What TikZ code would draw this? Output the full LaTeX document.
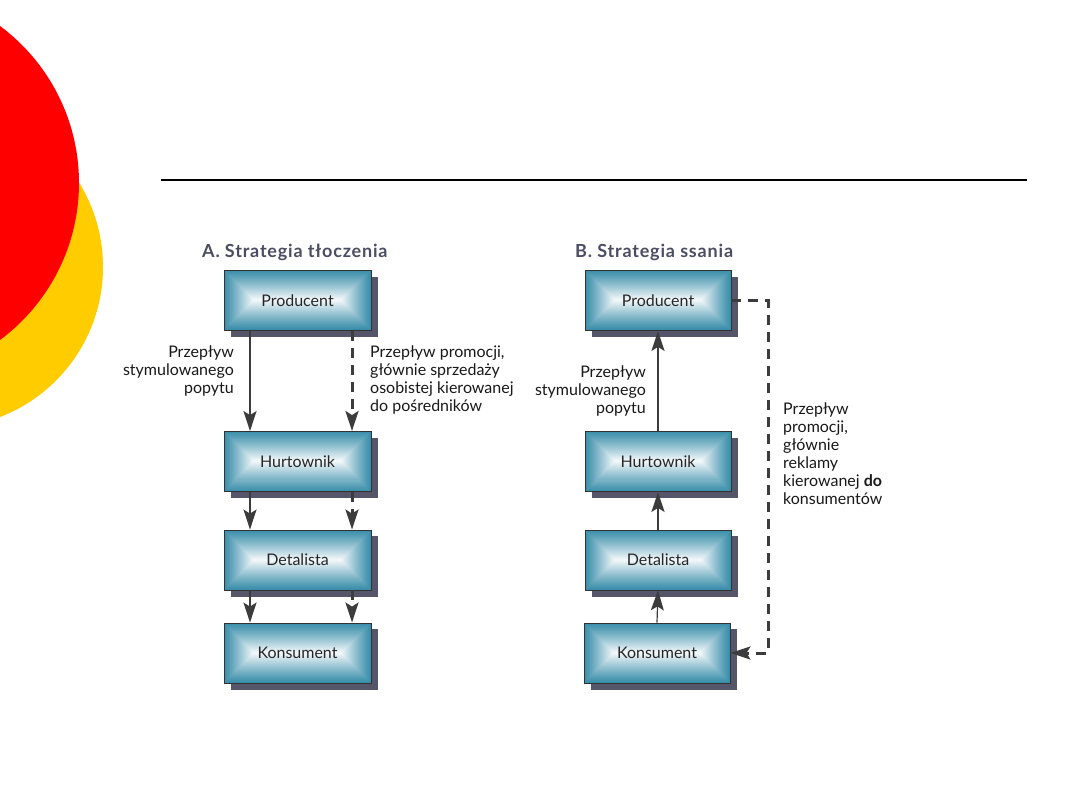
\documentclass[tikz,border=0pt]{standalone}
\usepackage{fontspec}
\setmainfont{Lato}
\usetikzlibrary{arrows.meta,calc,backgrounds}
\definecolor{teal1}{HTML}{3A8EAA}
\definecolor{shadowc}{HTML}{55566A}
\definecolor{titlec}{HTML}{4B4E62}
\definecolor{arrowc}{HTML}{3C3C3C}
\definecolor{redc}{HTML}{FF0000}
\definecolor{yellowc}{HTML}{FFCC00}
\tikzset{
  box/.style={draw=black!80, line width=0.8pt, minimum width=147pt, minimum height=60pt,
    inner sep=0pt, font=\fontsize{16}{18}\selectfont, text=black!85,
    path picture={
      \foreach \i [evaluate=\i as \w using {min(100,93*(\i/29)^1.1)}] in {0,...,29}{
        \fill[white!\w!teal1] ([shift={(\i pt,\i pt)}]path picture bounding box.south west)
          rectangle ([shift={(-\i pt,-\i pt)}]path picture bounding box.north east);
      }
    }},
  lbl/.style={font=\fontsize{16}{18}\selectfont, text=black!90, inner sep=0pt},
  ttl/.style={font=\bfseries\fontsize{18}{20}\selectfont\addfontfeatures{LetterSpace=4.5}, text=titlec, inner sep=0pt},
  solidarrow/.style={draw=arrowc, line width=2pt, -{Stealth[length=20pt,width=13pt,inset=4pt]}},
  dasharrow/.style={solidarrow, line width=3pt, dash pattern=on 10pt off 7pt},
}
\begin{document}
\begin{tikzpicture}[x=1pt,y=-1pt]
\useasboundingbox (0,0) rectangle (1080,810);
\begin{scope}[on background layer]
  \fill[white] (0,0) rectangle (1080,810);
  \clip (0,0) rectangle (1080,810);
  \fill[yellowc] (-57.7,267) circle[radius=160.7pt];
  \fill[redc] (-116.5,183) circle[radius=195.5pt];
\end{scope}

\coordinate (l1) at (161,180);
\coordinate (l2) at (1027,180);
\draw[line width=2pt] (l1) -- (l2);

% titles
\node[ttl, anchor=base west] (tA) at (202,258) {A. Strategia tłoczenia};
\node[ttl, anchor=base west] (tB) at (575,258) {B. Strategia ssania};

% A boxes
\node[box] (pA) at (297.5,300.5) {Producent};
\node[box] (hA) at (297.5,461.5) {Hurtownik};
\node[box] (dA) at (297.5,560) {Detalista};
\node[box] (kA) at (297.5,653) {Konsument};
% B boxes
\node[box, minimum width=146pt] (pB) at (658,300.5) {Producent};
\node[box, minimum width=146pt] (hB) at (658,461.5) {Hurtownik};
\node[box, minimum width=146pt] (dB) at (658,560) {Detalista};
\node[box, minimum width=146pt] (kB) at (657,653) {Konsument};

\begin{scope}[on background layer]
  \foreach \n in {pA,hA,dA,kA,pB,hB,dB,kB}
    \fill[shadowc] ([shift={(7pt,-6.5pt)}]\n.south west) rectangle ([shift={(7pt,-6.5pt)}]\n.north east);
\end{scope}

% A arrows
\draw[solidarrow] ([xshift=-47.5pt]pA.south) -- ([xshift=-47.5pt]hA.north);
\draw[solidarrow] ([xshift=-47.5pt]hA.south) -- ([xshift=-47.5pt]dA.north);
\draw[solidarrow] ([xshift=-47.5pt]dA.south) -- ([xshift=-47.5pt]kA.north);
\draw[dasharrow] ([xshift=54.5pt]pA.south) -- ([xshift=54.5pt]hA.north);
\draw[dasharrow] ([xshift=54.5pt]hA.south) -- ([xshift=54.5pt]dA.north);
\draw[dasharrow] ([xshift=54.5pt]dA.south) -- ([xshift=54.5pt]kA.north);

% B arrows
\draw[solidarrow] (hB.north) -- (pB.south);
\draw[solidarrow] (dB.north) -- (hB.south);
\draw[solidarrow, line width=1.2pt] (kB.north) -- (dB.south);
\coordinate (cB) at (768,480);
\draw[dasharrow] (pB.east) -| (cB) |- (kB.east);

% labels
\node[lbl, align=right, anchor=north east] (lA1) at (234,346) {Przepływ\\stymulowanego\\popytu};
\node[lbl, align=left, anchor=north west] (lA2) at (370,346) {Przepływ promocji,\\głównie sprzedaży\\osobistej kierowanej\\do pośredników};
\node[lbl, align=right, anchor=north east] (lB1) at (646,366) {Przepływ\\stymulowanego\\popytu};
\node[lbl, align=left, anchor=north west] (lB2) at (783,403) {Przepływ\\promocji,\\głównie\\reklamy\\kierowanej \textbf{do}\\konsumentów};
\end{tikzpicture}
\end{document}
